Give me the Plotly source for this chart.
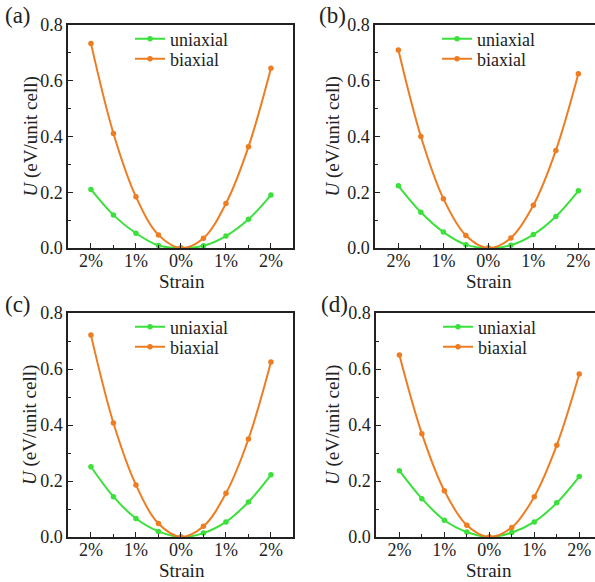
import plotly.graph_objects as go

strain = [-2, -1.5, -1, -0.5, 0, 0.5, 1, 1.5, 2]
tick_vals = [-2, -1, 0, 1, 2]
tick_text = ["2%", "1%", "0%", "1%", "2%"]
panel_labels = ["(a)", "(b)", "(c)", "(d)"]

uni_a = [0.210, 0.118, 0.053, 0.009, 0.0, 0.008, 0.043, 0.103, 0.190]
bi_a = [0.734, 0.411, 0.184, 0.047, 0.0, 0.035, 0.160, 0.363, 0.645]
uni_b = [0.223, 0.128, 0.057, 0.012, 0.0, 0.010, 0.048, 0.113, 0.205]
bi_b = [0.710, 0.400, 0.177, 0.045, 0.0, 0.036, 0.153, 0.350, 0.625]
uni_c = [0.251, 0.144, 0.066, 0.020, 0.0, 0.014, 0.054, 0.125, 0.222]
bi_c = [0.721, 0.407, 0.186, 0.048, 0.0, 0.038, 0.156, 0.350, 0.625]
uni_d = [0.237, 0.137, 0.060, 0.018, 0.0, 0.016, 0.054, 0.122, 0.216]
bi_d = [0.650, 0.369, 0.165, 0.042, 0.0, 0.034, 0.144, 0.328, 0.582]

uni_all = [uni_a, uni_b, uni_c, uni_d]
bi_all = [bi_a, bi_b, bi_c, bi_d]

GREEN = "#3be03b"
ORANGE = "#ee7d22"
FONT = "Liberation Serif"
INK = "#222"
W, H = 595, 582

# pixel boxes: (left, right, top, bottom)
boxes = [(68, 293, 25, 248), (375, 595, 25, 248), (68, 293, 313, 537), (376, 595, 313, 537)]
xranges = [[-2.51, 2.49], [-2.52, 2.37], [-2.51, 2.49], [-2.52, 2.35]]
label_pos = [(3, 15), (317, 15), (3, 304), (319, 304)]
legend_pos = [(130, 39), (437, 39), (130, 327), (438, 327)]
ytitle_x = [30, 332, 30, 333]
xtitle_x = [182, 489, 182, 489]
xtitle_y = [281, 281, 570, 570]

fig = go.Figure()
layout = dict(
    width=W, height=H, margin=dict(l=0, r=0, t=0, b=0, autoexpand=False),
    paper_bgcolor="white", plot_bgcolor="white", showlegend=True,
    font=dict(family=FONT, size=18, color=INK),
)
annotations = []
for i in range(4):
    n = "" if i == 0 else str(i + 1)
    L, R, T, B = boxes[i]
    xa = "x" + n
    ya = "y" + n
    k1 = 2 * i + 1
    k2 = 2 * i + 2
    leg1 = "legend" if k1 == 1 else "legend" + str(k1)
    leg2 = "legend" + str(k2)
    fig.add_trace(go.Scatter(
        x=strain, y=uni_all[i], mode="lines+markers", name="uniaxial",
        line=dict(color=GREEN, width=2, shape="spline", smoothing=1.0),
        marker=dict(color=GREEN, size=5.5), xaxis=xa, yaxis=ya, legend=leg1,
        showlegend=True))
    fig.add_trace(go.Scatter(
        x=strain, y=bi_all[i], mode="lines+markers", name="biaxial",
        line=dict(color=ORANGE, width=2, shape="spline", smoothing=1.0),
        marker=dict(color=ORANGE, size=5.5), xaxis=xa, yaxis=ya, legend=leg2,
        showlegend=True))
    layout["xaxis" + n] = dict(
        domain=[L / W, R / W], anchor=ya, range=xranges[i], automargin=False,
        tickvals=tick_vals, ticktext=tick_text, ticks="inside", ticklen=5,
        tickwidth=1, tickcolor=INK, ticklabeloverflow="allow", ticklabelstandoff=-4,
        minor=dict(tickvals=[-1.5, -0.5, 0.5, 1.5], ticks="inside", ticklen=3, tickcolor=INK),
        showline=True, linecolor=INK, linewidth=1.5, mirror=True,
        showgrid=False, zeroline=False,
        tickfont=dict(size=18, family=FONT),
    )
    layout["yaxis" + n] = dict(
        domain=[1 - B / H, 1 - T / H], anchor=xa, range=[0, 0.8], automargin=False,
        tickvals=[0, 0.2, 0.4, 0.6, 0.8], ticktext=["0.0", "0.2", "0.4", "0.6", "0.8"],
        ticks="inside", ticklen=5, tickwidth=1, tickcolor=INK,
        minor=dict(dtick=0.1, ticks="inside", ticklen=3, tickcolor=INK),
        showline=True, linecolor=INK, linewidth=1.5, mirror=True,
        showgrid=False, zeroline=False,
        tickfont=dict(size=18, family=FONT),
    )
    lx, ly = legend_pos[i]
    layout[leg1] = dict(
        x=lx / W, y=1 - ly / H, xanchor="left", yanchor="middle",
        bgcolor="rgba(0,0,0,0)", font=dict(size=18, family=FONT), itemwidth=30)
    layout[leg2] = dict(
        x=lx / W, y=1 - (ly + 20) / H, xanchor="left", yanchor="middle",
        bgcolor="rgba(0,0,0,0)", font=dict(size=18, family=FONT), itemwidth=30)
    px, py = label_pos[i]
    annotations.append(dict(
        text=panel_labels[i], x=px / W, y=1 - py / H, xref="paper", yref="paper",
        xanchor="left", yanchor="middle", showarrow=False,
        font=dict(size=23, family=FONT, color=INK)))
    annotations.append(dict(
        text="<i>U</i> (eV/unit cell)", x=ytitle_x[i] / W, y=1 - (T + B) / 2 / H,
        xref="paper", yref="paper", xanchor="center", yanchor="middle",
        textangle=-90, showarrow=False, font=dict(size=19, family=FONT, color=INK)))
    annotations.append(dict(
        text="Strain", x=xtitle_x[i] / W, y=1 - xtitle_y[i] / H,
        xref="paper", yref="paper", xanchor="center", yanchor="middle",
        showarrow=False, font=dict(size=19, family=FONT, color=INK)))

layout["annotations"] = annotations
fig.update_layout(**layout)
fig.write_html("out.html", config={"displayModeBar": False},
               post_script="document.body.style.margin='0';")
